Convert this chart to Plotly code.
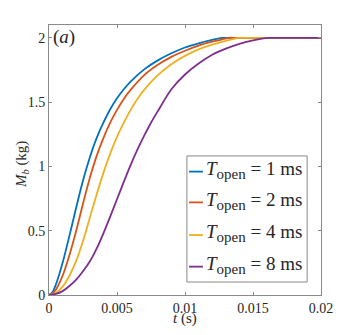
import plotly.graph_objects as go

# time in ms, mass in kg
t_1ms = [0, 0.25, 0.5, 0.75, 1, 1.5, 2, 2.5, 3, 3.5, 4, 4.5, 5, 5.5, 6, 7, 8, 9, 10, 11, 12, 12.7, 13.2, 14, 16, 18, 20]
m_1ms = [0, 0.02, 0.08, 0.16, 0.25, 0.46, 0.68, 0.89, 1.07, 1.22, 1.34, 1.445, 1.53, 1.60, 1.66, 1.755, 1.825, 1.88, 1.925, 1.958, 1.984, 2.0, 2.0, 2.0, 2.0, 2.0, 2.0]

t_2ms = [0, 0.25, 0.5, 0.75, 1, 1.5, 2, 2.5, 3, 3.5, 4, 4.5, 5, 5.5, 6, 7, 8, 9, 10, 11, 12, 12.6, 13.2, 13.7, 14.5, 16, 18, 20]
m_2ms = [0, 0.01, 0.04, 0.09, 0.15, 0.31, 0.50, 0.71, 0.91, 1.08, 1.22, 1.34, 1.44, 1.525, 1.595, 1.71, 1.79, 1.852, 1.90, 1.94, 1.97, 1.985, 2.0, 2.0, 2.0, 2.0, 2.0, 2.0]

t_4ms = [0, 0.5, 1, 1.5, 2, 2.5, 3, 3.5, 4, 4.5, 5, 5.5, 6, 6.5, 7, 8, 9, 10, 11, 12, 13, 14, 14.5, 15.5, 17, 20]
m_4ms = [0, 0.015, 0.065, 0.15, 0.265, 0.42, 0.60, 0.78, 0.95, 1.10, 1.23, 1.34, 1.44, 1.525, 1.595, 1.71, 1.795, 1.86, 1.91, 1.947, 1.976, 2.0, 2.0, 2.0, 2.0, 2.0]

t_8ms = [0, 0.5, 1, 1.5, 2, 2.5, 3, 3.5, 4, 4.5, 5, 5.5, 6, 6.5, 7, 7.5, 8, 9, 10, 11, 12, 13, 14, 15, 16.1, 16.6, 17.5, 20]
m_8ms = [0, 0.008, 0.03, 0.07, 0.12, 0.185, 0.26, 0.36, 0.48, 0.61, 0.745, 0.88, 1.01, 1.13, 1.24, 1.34, 1.43, 1.60, 1.715, 1.80, 1.868, 1.916, 1.954, 1.98, 2.0, 2.0, 2.0, 2.0]

labels = ['1 ms', '2 ms', '4 ms', '8 ms']
colors = ['#0072BD', '#D95319', '#EDB120', '#7E2F8E']

x_ticks = [0, 0.005, 0.01, 0.015, 0.02]
x_ticktext = ['0', '0.005', '0.01', '0.015', '0.02']
y_ticks = [0, 0.5, 1, 1.5, 2]
y_ticktext = ['0', '0.5', '1', '1.5', '2']

series = [(t_1ms, m_1ms), (t_2ms, m_2ms), (t_4ms, m_4ms), (t_8ms, m_8ms)]

FONT = '"Liberation Serif", "Times New Roman", "DejaVu Serif", serif'
AXC = '#8a8a8a'
TXT = '#262626'

fig = go.Figure()
for (t, m), lab, col in zip(series, labels, colors):
    fig.add_trace(go.Scatter(x=[v / 1000 for v in t], y=m, mode='lines', name=lab,
                             line=dict(color=col, width=1.8, shape='spline', smoothing=0.8),
                             showlegend=False))

# hand-built legend box (MATLAB style)
fig.add_shape(type='rect', xref='paper', yref='paper', x0=0.507, x1=0.949, y0=0.048, y1=0.515,
              line=dict(color=AXC, width=1), fillcolor='white', layer='above')
leg_y = [0.457, 0.343, 0.222, 0.105]
for yy, lab, col in zip(leg_y, labels, colors):
    fig.add_shape(type='line', xref='paper', yref='paper', x0=0.515, x1=0.566, y0=yy, y1=yy,
                  line=dict(color=col, width=1.8), layer='above')
    fig.add_annotation(xref='paper', yref='paper', x=0.571, y=yy + 0.006, xanchor='left', yanchor='middle',
                       text='<i>T</i><sub><span style="font-size:15px">open</span></sub> = ' + lab,
                       showarrow=False, font=dict(family=FONT, size=19, color=TXT))

fig.add_annotation(xref='paper', yref='paper', x=0.008, y=0.955, xanchor='left', yanchor='middle',
                   text='(<i>a</i>)', showarrow=False, font=dict(family=FONT, size=19, color=TXT))

# axis titles
fig.add_annotation(xref='paper', yref='paper', x=0.5, y=-0.088, xanchor='center', yanchor='middle',
                   text='<i>t</i> (s)', showarrow=False, font=dict(family=FONT, size=15, color=TXT))
fig.add_annotation(xref='paper', yref='paper', x=-0.099, y=0.485, xanchor='center', yanchor='middle',
                   textangle=-90, text='<i>M</i><sub><i>b</i></sub> (kg)', showarrow=False,
                   font=dict(family=FONT, size=15, color=TXT))

axis_common = dict(showline=True, linecolor=AXC, linewidth=1, mirror='ticks', ticks='inside',
                   ticklen=3, tickcolor=AXC, showgrid=False, zeroline=False, automargin=False,
                   tickfont=dict(family=FONT, size=14, color=TXT))
fig.update_xaxes(range=[0, 0.02], tickvals=x_ticks, ticktext=x_ticktext, **axis_common)
fig.update_yaxes(range=[0, 2.1], tickvals=y_ticks, ticktext=y_ticktext, **axis_common)

# page body adds an 8px offset, so the figure is 8px smaller with matching margins
fig.update_layout(width=346, height=327, margin=dict(l=41, r=33, t=17, b=40),
                  plot_bgcolor='white', paper_bgcolor='white', font=dict(family=FONT))
fig.write_html("out.html")
